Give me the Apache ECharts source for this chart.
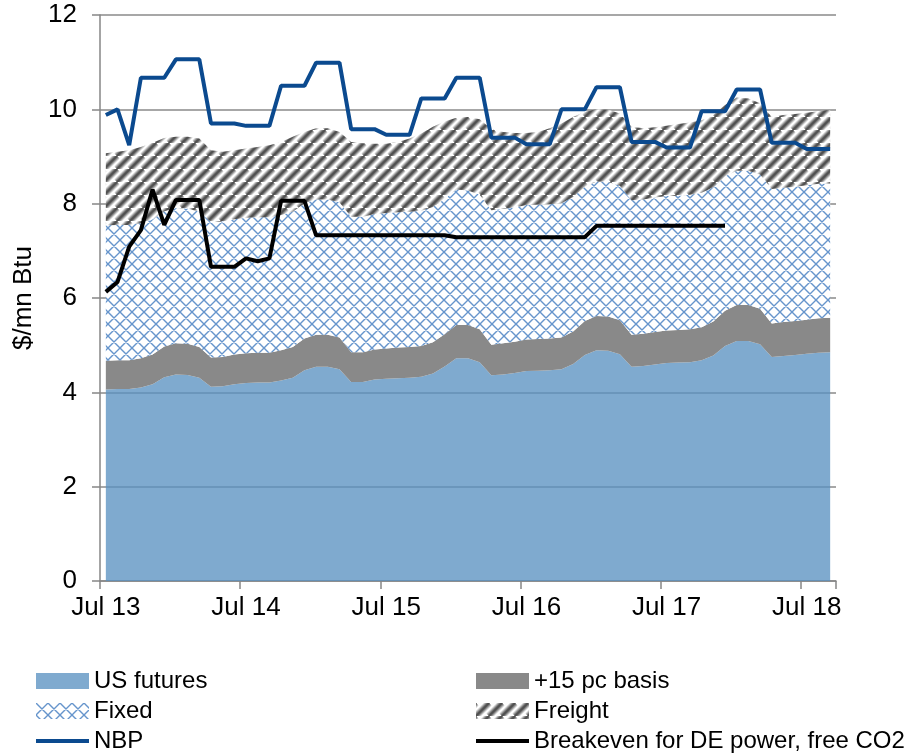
<!DOCTYPE html>
<html><head><meta charset="utf-8">
<script src="https://cdn.jsdelivr.net/npm/echarts@6/dist/echarts.min.js"></script>
<style>html,body{margin:0;padding:0;background:#fff}#c{width:913px;height:754px}</style>
</head><body><div id="c"></div>
<script>
const months = [
 'Jul 13','Aug 13','Sep 13','Oct 13','Nov 13','Dec 13','Jan 14','Feb 14','Mar 14','Apr 14','May 14','Jun 14',
 'Jul 14','Aug 14','Sep 14','Oct 14','Nov 14','Dec 14','Jan 15','Feb 15','Mar 15','Apr 15','May 15','Jun 15',
 'Jul 15','Aug 15','Sep 15','Oct 15','Nov 15','Dec 15','Jan 16','Feb 16','Mar 16','Apr 16','May 16','Jun 16',
 'Jul 16','Aug 16','Sep 16','Oct 16','Nov 16','Dec 16','Jan 17','Feb 17','Mar 17','Apr 17','May 17','Jun 17',
 'Jul 17','Aug 17','Sep 17','Oct 17','Nov 17','Dec 17','Jan 18','Feb 18','Mar 18','Apr 18','May 18','Jun 18',
 'Jul 18','Aug 18','Sep 18'];

const usFutures = [
 4.06,4.07,4.07,4.10,4.17,4.32,4.38,4.37,4.31,4.12,
 4.13,4.17,4.20,4.21,4.21,4.25,4.31,4.47,4.54,4.54,
 4.49,4.22,4.22,4.27,4.29,4.30,4.31,4.33,4.40,4.55,
 4.72,4.72,4.64,4.36,4.38,4.41,4.45,4.46,4.47,4.49,
 4.60,4.79,4.89,4.88,4.81,4.54,4.56,4.59,4.62,4.63,
 4.64,4.68,4.78,4.98,5.09,5.09,5.02,4.75,4.77,4.79,
 4.82,4.84,4.85];

const basis = [
 0.61,0.61,0.61,0.62,0.63,0.65,0.66,0.66,0.65,0.62,
 0.62,0.63,0.63,0.63,0.63,0.64,0.65,0.67,0.68,0.68,
 0.67,0.63,0.63,0.64,0.64,0.65,0.65,0.65,0.66,0.68,
 0.71,0.71,0.70,0.65,0.66,0.66,0.67,0.67,0.67,0.67,
 0.69,0.72,0.73,0.73,0.72,0.68,0.68,0.69,0.69,0.69,
 0.70,0.70,0.72,0.75,0.76,0.76,0.75,0.71,0.72,0.72,
 0.72,0.73,0.73];

const fixedCost = [
 2.87,2.87,2.87,2.87,2.87,2.87,2.87,2.87,2.87,2.87,
 2.87,2.87,2.87,2.87,2.87,2.87,2.87,2.87,2.87,2.87,
 2.87,2.87,2.87,2.87,2.87,2.87,2.87,2.87,2.87,2.87,
 2.87,2.85,2.85,2.85,2.85,2.85,2.85,2.85,2.85,2.85,
 2.85,2.85,2.85,2.85,2.85,2.85,2.85,2.85,2.85,2.85,
 2.85,2.85,2.85,2.85,2.85,2.85,2.85,2.85,2.85,2.85,
 2.85,2.85,2.85];

const freight = [
 1.53,1.55,1.58,1.61,1.62,1.55,1.51,1.52,1.55,1.52,
 1.48,1.46,1.47,1.49,1.53,1.55,1.59,1.51,1.51,1.51,
 1.49,1.59,1.56,1.49,1.47,1.49,1.55,1.64,1.70,1.64,
 1.52,1.56,1.60,1.72,1.63,1.58,1.53,1.54,1.61,1.69,
 1.70,1.59,1.53,1.53,1.53,1.56,1.51,1.49,1.49,1.52,
 1.53,1.54,1.53,1.51,1.55,1.53,1.51,1.53,1.54,1.54,
 1.54,1.54,1.56];

const nbp = [
 9.88,10.00,9.24,
 10.67,10.67,10.67, 11.06,11.06,11.06, 9.70,9.70,9.70,
 9.65,9.65,9.65, 10.50,10.50,10.50, 10.99,10.99,10.99, 9.58,9.58,9.58,
 9.46,9.46,9.46, 10.23,10.23,10.23, 10.67,10.67,10.67, 9.40,9.40,9.40,
 9.26,9.26,9.26, 10.00,10.00,10.00, 10.47,10.47,10.47, 9.31,9.31,9.31,
 9.19,9.19,9.19, 9.96,9.96,9.96, 10.42,10.42,10.42, 9.29,9.29,9.29,
 9.16,9.16,9.16];

const breakeven = [
 6.13,6.34,7.09,7.44,8.30,7.55,8.08,8.08,8.08,6.66,6.66,6.66,
 6.84,6.78,6.84,8.06,8.06,8.06,7.33,7.33,7.33,7.33,7.33,7.33,
 7.33,7.33,7.33,7.33,7.33,7.33,7.29,7.29,7.29,7.29,7.29,7.29,
 7.29,7.29,7.29,7.29,7.29,7.29,7.53,7.53,7.53,7.53,7.53,7.53,
 7.53,7.53,7.53,7.53,7.53,7.53,null,null,null,null,null,null,
 null,null,null];

const seriesNames = ['US futures','+15 pc basis','Fixed','Freight','NBP','Breakeven for DE power, free CO2'];

function makeFixedPattern(){
  const s = 12, c = document.createElement('canvas'); c.width = s; c.height = s;
  const g = c.getContext('2d');
  g.fillStyle = '#fff'; g.fillRect(0,0,s,s);
  g.strokeStyle = 'rgba(75,130,195,0.85)'; g.lineWidth = 1.4;
  g.beginPath();
  for (const k of [-s,0,s]) {
    g.moveTo(k,0); g.lineTo(k+s,s);
    g.moveTo(k,s); g.lineTo(k+s,0);
  }
  g.stroke();
  return c;
}
function makeFreightPattern(){
  const s = 13, c = document.createElement('canvas'); c.width = s; c.height = s;
  const g = c.getContext('2d');
  g.fillStyle = '#fff'; g.fillRect(0,0,s,s);
  const draw = (w,col) => {
    g.strokeStyle = col; g.lineWidth = w; g.beginPath();
    for (const k of [-s,0,s]) { g.moveTo(k,s); g.lineTo(k+s,0); }
    g.stroke();
  };
  draw(7,'#c8c8c8'); draw(5,'#959595'); draw(3,'#626262'); draw(1.5,'#505050');
  return c;
}
const fixedPat = {image: makeFixedPattern(), repeat:'repeat'};
const freightPat = {image: makeFreightPattern(), repeat:'repeat'};

const FONT = "'Liberation Sans', Arial, sans-serif";
const chart = echarts.init(document.getElementById('c'), null, {renderer:'canvas'});

const areaSeries = (name, data, color) => ({
  name, type:'line', stack:'cost', data, symbol:'none',
  lineStyle:{width:0}, itemStyle:{color: typeof color === 'string' ? color : '#888'},
  areaStyle:{color, opacity:1}, z:2
});

const legendItem = (name, left, top, color, h) => ({
  orient:'horizontal', left, top, itemWidth:53, itemHeight:h, itemGap:0, padding:0,
  selectedMode:false,
  textStyle:{fontSize:24, lineHeight:30, color:'#000', fontFamily:FONT},
  data:[{name, icon:'rect', itemStyle:{color}}]
});

chart.setOption({
  animation:false,
  backgroundColor:'#fff',
  textStyle:{fontFamily:FONT},
  grid:{left:100, top:15, width:736, height:566, containLabel:false},
  xAxis:{
    type:'category', data:months, boundaryGap:true,
    axisLine:{lineStyle:{color:'#868686', width:1.5}},
    axisTick:{show:true, interval:11, length:8, lineStyle:{color:'#868686', width:1.5}},
    axisLabel:{interval:11, fontSize:26, color:'#000', margin:14, fontFamily:FONT},
    splitLine:{show:false}
  },
  yAxis:{
    type:'value', min:0, max:12, interval:2,
    name:'$/mn Btu', nameLocation:'middle', nameGap:58, nameRotate:90,
    nameTextStyle:{fontSize:26, color:'#000', fontFamily:FONT},
    axisLine:{show:true, lineStyle:{color:'#868686', width:1.5}},
    axisTick:{show:true, length:8, lineStyle:{color:'#868686', width:1.5}},
    axisLabel:{fontSize:26, color:'#000', margin:23, fontFamily:FONT},
    splitLine:{show:true, lineStyle:{color:'#8a8a8a', width:1.5}}
  },
  legend:[
    legendItem(seriesNames[0], 36, 666, '#7FAACF', 16),
    legendItem(seriesNames[2], 36, 696, fixedPat, 16),
    legendItem(seriesNames[4], 36, 726, '#0B4A8F', 4),
    legendItem(seriesNames[1], 476, 666, '#898989', 16),
    legendItem(seriesNames[3], 476, 696, freightPat, 16),
    legendItem(seriesNames[5], 476, 726, '#000', 4)
  ],
  series:[
    {name:seriesNames[0], type:'line', stack:'cost', data:usFutures, symbol:'none',
     lineStyle:{width:0}, itemStyle:{color:'#7FAACF'},
     areaStyle:{color:'rgb(89,145,193)', opacity:0.77}, z:2},
    areaSeries(seriesNames[1], basis, '#898989'),
    areaSeries(seriesNames[2], fixedCost, fixedPat),
    areaSeries(seriesNames[3], freight, freightPat),
    {name:seriesNames[4], type:'line', data:nbp, symbol:'none',
     lineStyle:{color:'#0B4A8F', width:4}, itemStyle:{color:'#0B4A8F'}, z:5},
    {name:seriesNames[5], type:'line', data:breakeven, symbol:'none',
     lineStyle:{color:'#000', width:4}, itemStyle:{color:'#000'}, z:6}
  ]
});
</script>
</body></html>
